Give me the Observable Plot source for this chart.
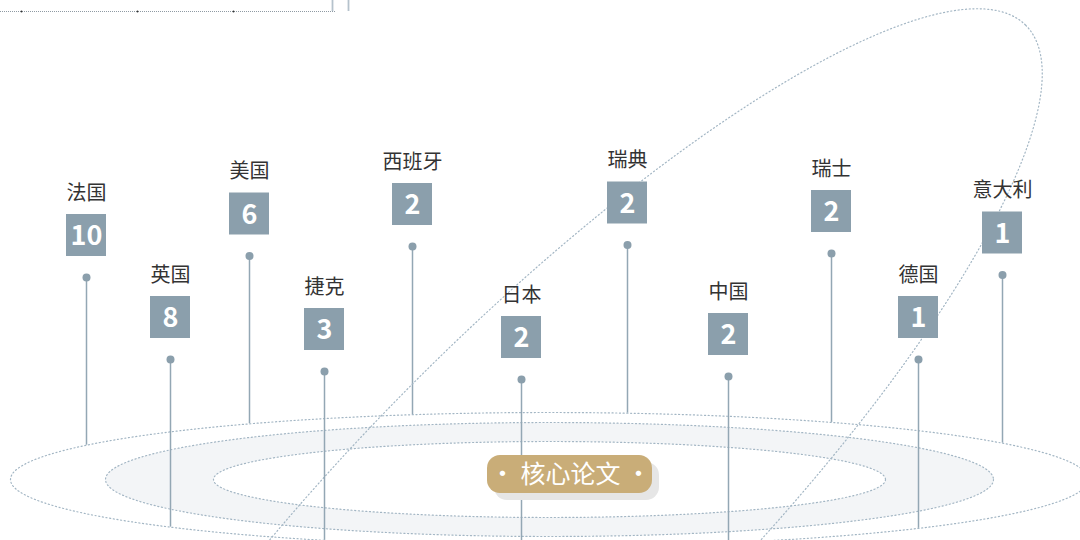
<!DOCTYPE html>
<html>
<head>
<meta charset="utf-8">
<script src="https://cdn.jsdelivr.net/npm/d3@7"></script>
<script src="https://cdn.jsdelivr.net/npm/@observablehq/plot@0.6"></script>
<style>
  html, body { margin: 0; padding: 0; background: #ffffff; overflow: hidden; }
  #chart { width: 1080px; height: 540px; }
</style>
</head>
<body>
<div id="chart"></div>
<script>
// ---- data ----
const countries = ["法国", "英国", "美国", "捷克", "西班牙", "日本", "瑞典", "中国", "瑞士", "德国", "意大利"];
const papers    = [10, 8, 6, 3, 2, 2, 2, 2, 2, 1, 1];
const centerLabel = "· 核心论文 ·";

// ---- layout (pin anchors, in the chart's pixel frame) ----
const pinX   = [86, 170, 249, 324, 412, 521, 627, 728, 831, 918, 1002];
const boxY   = [235, 317, 213.5, 329, 204, 337, 202.5, 334, 211, 317, 232.5];
const inFront = [false, true, false, true, false, true, false, true, false, true, false];

const W = 1080, H = 540;
const floor = {cx: 549, cy: 479, rings: [{rx: 539, ry: 67, fill: "#ffffff"}, {rx: 444, ry: 57, fill: "#f3f5f7"}, {rx: 336, ry: 38, fill: "#ffffff"}]};
const orbit = {cx: 543, cy: 507, a: 682, b: 180, angle: 45};

const pins = countries.map((c, i) => ({
  country: c, papers: papers[i], x: pinX[i], box: boxY[i], front: inFront[i]
}));

function ellipsePts(cx, cy, rx, ry, deg) {
  const r = deg * Math.PI / 180, n = 400;
  return d3.range(n).map(k => {
    const t = 2 * Math.PI * k / n;
    const a = rx * Math.cos(t), b = ry * Math.sin(t);
    return {x: cx + a * Math.cos(r) + b * Math.sin(r), y: cy - a * Math.sin(r) + b * Math.cos(r)};
  });
}
const outer = floor.rings[0];
function floorY(x, sign) {
  const d = (x - floor.cx) / outer.rx;
  return floor.cy + sign * outer.ry * Math.sqrt(Math.max(0, 1 - d * d));
}

const back = pins.filter(d => !d.front);
const front = pins.filter(d => d.front);
const dotted = {stroke: "#a3b6c4", strokeWidth: 1.2, strokeDasharray: "1.1 2.6"};
const pinColor = "#8b9fac";
const lineColor = "#93a7b4";

const rings = floor.rings.map(r => Plot.line(ellipsePts(floor.cx, floor.cy, r.rx, r.ry, 0), {
  x: "x", y: "y", curve: "linear-closed", fill: r.fill, ...dotted
}));

const chart = Plot.plot({
  width: W, height: H,
  marginTop: 0, marginRight: 0, marginBottom: 0, marginLeft: 0,
  x: {domain: [0, W], range: [0, W], axis: null},
  y: {domain: [0, H], range: [0, H], axis: null},
  style: {fontFamily: "'Noto Sans CJK SC', 'Noto Sans', sans-serif", background: "#ffffff", overflow: "hidden"},
  marks: [
    // remnant of an axis at the top-left
    Plot.ruleY([11], {x1: 0, x2: 335, stroke: "#8f9aa3", strokeWidth: 1, strokeDasharray: "1 1"}),
    Plot.dot([21, 137, 233], {x: d => d, y: 11, r: 0.9, fill: "#333", stroke: null}),
    Plot.ruleX([332, 348], {y1: 0, y2: 11, stroke: "#b5c2cc", strokeWidth: 1.8}),
    // back pins' stems stand on the far edge of the floor
    Plot.ruleX(back, {x: "x", y1: d => d.box + 42, y2: d => floorY(d.x, -1), stroke: lineColor, strokeWidth: 1.5}),
    ...rings,
    // tilted orbit
    Plot.line(ellipsePts(orbit.cx, orbit.cy, orbit.a, orbit.b, orbit.angle), {
      x: "x", y: "y", curve: "linear-closed", clip: true, ...dotted
    }),
    // front pins' stems stand on the near edge of the floor
    Plot.ruleX(front, {x: "x", y1: d => d.box + 42, y2: d => floorY(d.x, 1), stroke: lineColor, strokeWidth: 1.5}),
    Plot.dot(pins, {x: "x", y: d => d.box + 42, r: 4, fill: pinColor, stroke: null}),
    Plot.rect(pins, {x1: d => d.x - 20, x2: d => d.x + 20, y1: d => d.box - 21, y2: d => d.box + 21, fill: pinColor}),
    Plot.text(pins, {x: "x", y: "box", text: d => String(d.papers), fill: "#ffffff", fontSize: 27, fontWeight: "bold", dy: 1}),
    Plot.text(pins, {x: "x", y: d => d.box - 42, text: "country", fill: "#333333", fontSize: 20}),
    // centre pill
    Plot.rect([0], {x1: 494, x2: 659, y1: 462, y2: 500, rx: 13, fill: "#e6e6e6"}),
    Plot.rect([0], {x1: 487, x2: 652, y1: 455, y2: 493, rx: 13, fill: "#c9ad78"}),
    Plot.text([centerLabel], {x: 570, y: 474, text: d => d, fill: "#ffffff", fontSize: 25})
  ]
});
document.getElementById("chart").appendChild(chart);
</script>
</body>
</html>
